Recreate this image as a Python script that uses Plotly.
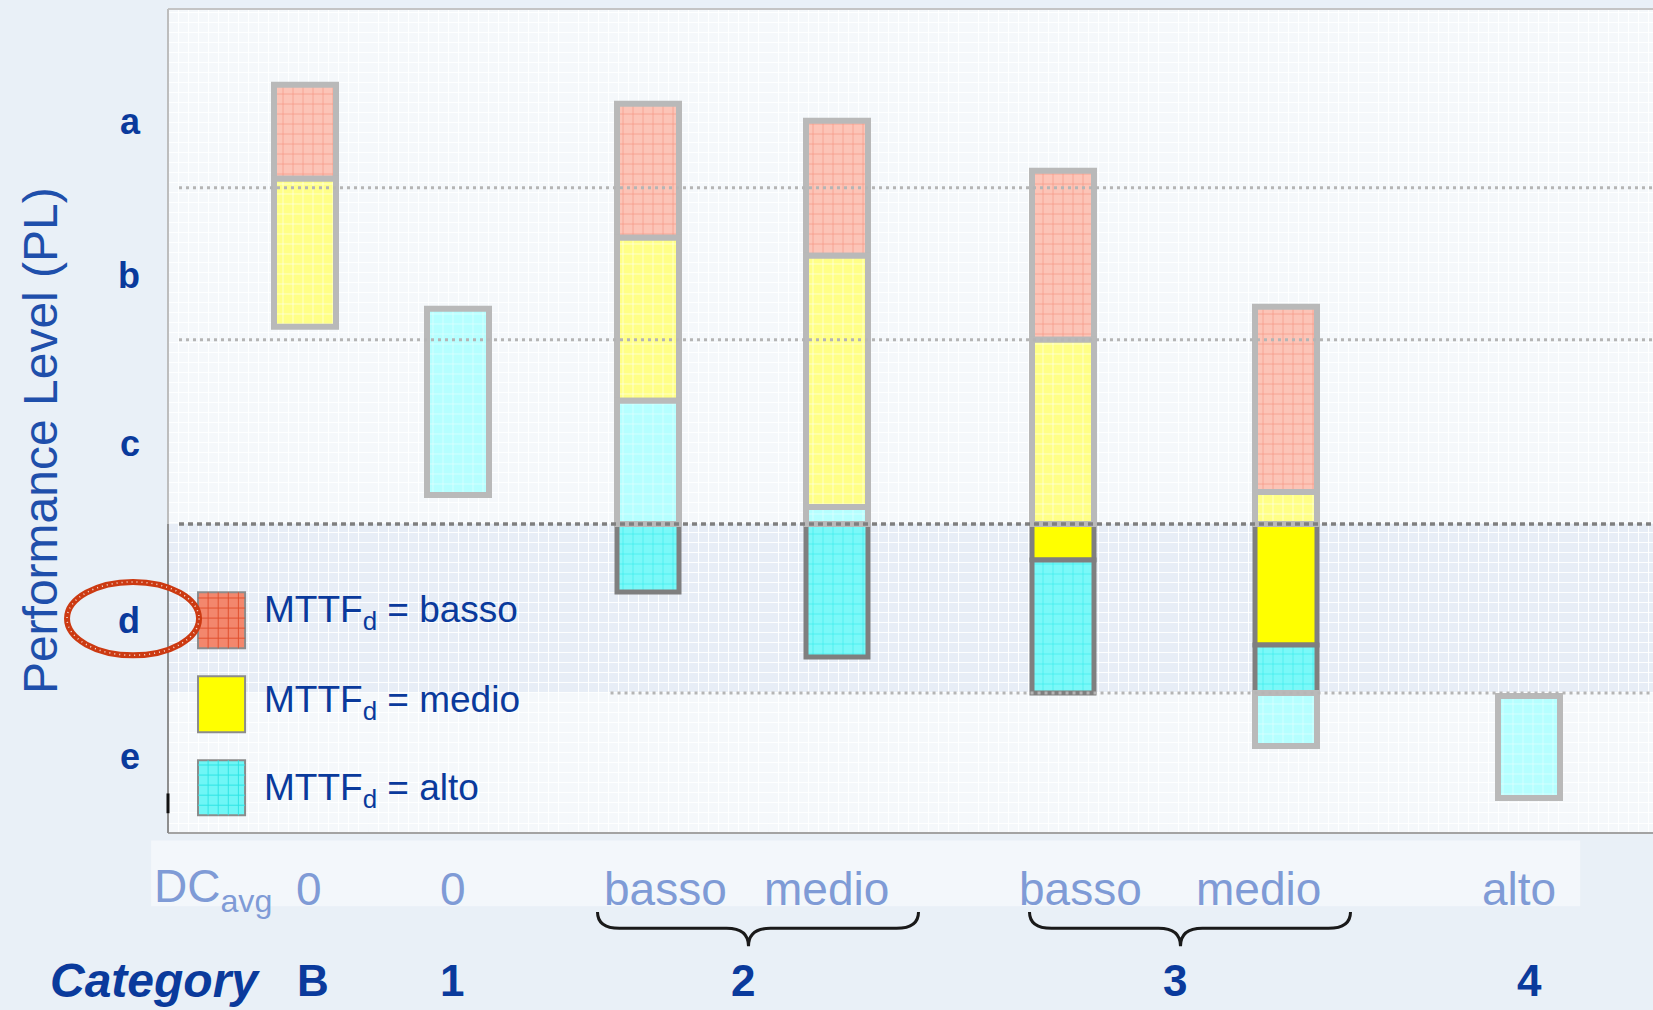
import plotly.graph_objects as go

# ---------------- data ----------------
categories = ["B", "1", "2", "2", "3", "3", "4"]
dc_avg = ["0", "0", "basso", "medio", "basso", "medio", "alto"]

# Performance Level scale (arbitrary vertical units, 0 = bottom of chart)
pl_levels = ["a", "b", "c", "d", "e"]
pl_label_pos = [71.1, 55.7, 38.9, 21.3, 7.7]
pl_bounds = [64.5, 49.3, 30.9, 14.0]          # a|b, b|c, c|d, d|e

# MTTFd ranges for every column (top, bottom); None = not applicable
basso_top = [74.8, None, 72.9, 71.2, 66.2, 52.6, None]
basso_bottom = [65.4, None, 59.5, 57.7, 49.3, 34.1, None]
medio_top = [65.4, None, 59.5, 57.7, 49.3, 34.1, None]
medio_bottom = [50.6, None, 43.2, 32.6, 27.3, 18.8, None]
alto_top = [None, 52.4, 43.2, 32.6, 27.3, 18.8, 13.7]
alto_bottom = [None, 33.8, 24.1, 17.6, 14.0, 8.7, 3.5]

legend_labels = ["MTTF<sub>d</sub> = basso", "MTTF<sub>d</sub> = medio", "MTTF<sub>d</sub> = alto"]

# ---------------- layout constants ----------------
X_POS = [1.37, 2.90, 4.80, 6.69, 8.95, 11.18, 13.61]
BAR_W = 0.62
X_RANGE = [0, 14.85]
Y_RANGE = [0, 82.37]
LABEL_SHIFT = [4, -5, 17, -11, 17, -28, -10]
CAT_SHIFT = {"B": 8, "1": -6}
CAT_ROW_Y = -0.1795
FONT = "Liberation Sans, Arial, sans-serif"
DARK_BLUE = "#0a3a9c"

STYLE = {
    ("basso", False): ("#fcc4b7", "#f3907e"),
    ("medio", False): ("#ffff86", "#fffff0"),
    ("alto", False): ("#b5ffff", "#e4ffff"),
    ("basso", True): ("#f4876c", "#e0502f"),
    ("medio", True): ("#ffff00", "#ffff00"),
    ("alto", True): ("#7af8f8", "#36ecec"),
}

d_lo, d_hi = pl_bounds[3], pl_bounds[2]


def split(top, bottom):
    """split a range into the part inside PL d (opaque) and the rest (faded)"""
    parts = []
    if top is None or bottom is None:
        return parts
    pieces = [(max(bottom, d_hi), top, False),
              (max(bottom, d_lo), min(top, d_hi), True),
              (bottom, min(top, d_lo), False)]
    for lo, hi, op in pieces:
        if hi - lo > 0.05:
            parts.append((lo, hi, op))
    return parts


segs = {k: ([], [], []) for k in STYLE}
series = {"basso": (basso_top, basso_bottom),
          "medio": (medio_top, medio_bottom),
          "alto": (alto_top, alto_bottom)}
for name, (tops, bots) in series.items():
    for i in range(len(categories)):
        for lo, hi, op in split(tops[i], bots[i]):
            xs, ys, bs = segs[(name, op)]
            xs.append(X_POS[i])
            ys.append(hi - lo)
            bs.append(lo)

fig = go.Figure()
# opaque (PL d) parts first, faded parts after
for opaque in (True, False):
    for name in ("basso", "medio", "alto"):
        xs, ys, bs = segs[(name, opaque)]
        if not xs:
            continue
        bg, fg = STYLE[(name, opaque)]
        fig.add_trace(go.Bar(
            x=xs, y=ys, base=bs, width=BAR_W, name=name,
            marker=dict(color=bg,
                        line=dict(color="#7f7f7f" if opaque else "#b9b9b9",
                                  width=5 if opaque else 6),
                        pattern=dict(shape="" if name == "medio" and opaque else "+",
                                     fgcolor=fg, bgcolor=bg, size=10,
                                     solidity=0.12, fillmode="replace")),
            showlegend=False, hoverinfo="skip"))

shapes = []
# PL d band
shapes.append(dict(type="rect", xref="paper", x0=0, x1=1, yref="y", y0=d_lo, y1=d_hi,
                   fillcolor="rgba(214,224,240,0.45)", line=dict(width=0), layer="below"))
# band below x labels
shapes.append(dict(type="rect", xref="paper", x0=-0.0114, x1=0.951, yref="paper",
                   y0=-0.089, y1=-0.009, fillcolor="rgba(255,255,255,0.45)",
                   line=dict(width=0), layer="below"))
# PL boundary lines
for j, b in enumerate(pl_bounds):
    dark = (j == 2)
    shapes.append(dict(type="line", xref="paper", x0=0.298 if j == 3 else 0.0074, x1=1,
                       yref="y", y0=b, y1=b, layer="above",
                       line=dict(color="#7f7f7f" if dark else "#b5b5b5",
                                 width=3.5 if dark else 3,
                                 dash="5px,4px" if dark else "3px,4px")))
# plot frame
shapes += [
    dict(type="line", xref="paper", yref="paper", x0=0, x1=1, y0=1, y1=1,
         line=dict(color="#c4c4c4", width=2)),
    dict(type="line", xref="paper", yref="paper", x0=0, x1=1, y0=0, y1=0,
         line=dict(color="#a3a3a3", width=2)),
    dict(type="line", xref="paper", yref="paper", x0=0, x1=0, y0=0, y1=1,
         line=dict(color="#bdbdbd", width=2)),
    dict(type="line", xref="paper", x0=0, x1=0, yref="y", y0=0, y1=d_hi,
         line=dict(color="#8e8e8e", width=2)),
    dict(type="line", xref="paper", yref="paper", x0=0, x1=0, y0=0.024, y1=0.048,
         line=dict(color="#111111", width=3)),
]

# braces under grouped categories
groups = {}
for i, c in enumerate(categories):
    groups.setdefault(c, []).append(X_POS[i])
yt, ym, yb, r = -0.0959, -0.1157, -0.1375, 0.22
for c, xs in groups.items():
    if len(xs) < 2:
        continue
    mid = sum(xs) / len(xs)
    L, R, T = mid - 1.45, mid + 1.76, mid + 0.06
    path = (f"M{L},{yt} Q{L},{ym} {L + r},{ym} L{T - r},{ym} Q{T},{ym} {T},{yb} "
            f"Q{T},{ym} {T + r},{ym} L{R - r},{ym} Q{R},{ym} {R},{yt}")
    shapes.append(dict(type="path", xref="x", yref="paper", path=path,
                       line=dict(color="#1a1a1a", width=3)))

# legend swatches
sw_x0, sw_x1 = 0.0202, 0.0519
sw_rows = [(0.2242, 0.2922), (0.1223, 0.1903), (0.0215, 0.0883)]
sw_style = [("#f3876d", "#e0502f"), ("#ffff00", None), ("#6ff6f6", "#2fe4e4")]
for (y0, y1), (fill, grid) in zip(sw_rows, sw_style):
    shapes.append(dict(type="rect", xref="paper", yref="paper", x0=sw_x0, x1=sw_x1,
                       y0=y0, y1=y1, fillcolor=fill, line=dict(color="#8c8c8c", width=2),
                       layer="above"))
    if grid:
        p = ""
        gx = sw_x0 + 0.0068
        while gx < sw_x1 - 0.002:
            p += f"M{gx},{y0} L{gx},{y1} "
            gx += 0.0068
        gy = y0 + 0.0122
        while gy < y1 - 0.003:
            p += f"M{sw_x0},{gy} L{sw_x1},{gy} "
            gy += 0.0122
        shapes.append(dict(type="path", xref="paper", yref="paper", path=p,
                           line=dict(color=grid, width=1), layer="above"))

# red dotted ellipse around "d"
shapes.append(dict(type="circle", xref="paper", yref="paper", x0=-0.068, x1=0.0209,
                   y0=0.2157, y1=0.3047, line=dict(color="#cc3a12", width=6), layer="above"))
shapes.append(dict(type="circle", xref="paper", yref="paper", x0=-0.068, x1=0.0209,
                   y0=0.2157, y1=0.3047,
                   line=dict(color="rgba(255,255,255,0.85)", width=1.5, dash="1px,4px"),
                   layer="above"))

annotations = []
# DC_avg row
annotations.append(dict(text="DC<sub>avg</sub>", xref="paper", yref="paper", x=0.030, y=-0.0683,
                        xanchor="center", yanchor="middle", showarrow=False,
                        font=dict(family=FONT, size=46, color="#7f9bd6")))
for i, lab in enumerate(dc_avg):
    annotations.append(dict(text=lab, xref="x", yref="paper", x=X_POS[i], y=-0.0683,
                            xshift=LABEL_SHIFT[i], xanchor="center", yanchor="middle",
                            showarrow=False, font=dict(family=FONT, size=46, color="#7f9bd6")))
# Category row
annotations.append(dict(text="<b><i>Category</i></b>", xref="paper", yref="paper", x=-0.0805,
                        y=CAT_ROW_Y, xanchor="left", yanchor="middle", showarrow=False,
                        font=dict(family=FONT, size=48, color=DARK_BLUE)))
for c, xs in groups.items():
    annotations.append(dict(text=f"<b>{c}</b>", xref="x", yref="paper", x=sum(xs) / len(xs),
                            y=CAT_ROW_Y, xshift=CAT_SHIFT.get(c, 0), xanchor="center",
                            yanchor="middle", showarrow=False,
                            font=dict(family=FONT, size=44, color=DARK_BLUE)))
# y title
annotations.append(dict(text="Performance Level (PL)", xref="paper", yref="paper", x=-0.0862,
                        y=0.4768, textangle=-90, xanchor="center", yanchor="middle",
                        showarrow=False, font=dict(family=FONT, size=48, color="#1f4fab")))
# legend text
for lab, y in zip(legend_labels, [0.2685, 0.1593, 0.0518]):
    annotations.append(dict(text=lab, xref="paper", yref="paper", x=0.0633, y=y,
                            xanchor="left", yanchor="middle", showarrow=False,
                            font=dict(family=FONT, size=37, color=DARK_BLUE)))

fig.update_layout(
    width=1653, height=1010,
    margin=dict(l=168, r=0, t=9, b=177),
    paper_bgcolor="#e9f0f7",
    plot_bgcolor="#f5f8fb",
    barmode="overlay",
    showlegend=False,
    shapes=shapes,
    annotations=annotations,
    xaxis=dict(range=X_RANGE, showticklabels=False, showgrid=False, zeroline=False,
               showline=False, ticks="",
               minor=dict(tickmode="linear", tick0=0, dtick=0.1, showgrid=True,
                          gridcolor="rgba(255,255,255,0.9)", gridwidth=1, ticks="")),
    yaxis=dict(range=Y_RANGE, tickmode="array", tickvals=pl_label_pos, ticktext=pl_levels,
               showgrid=False, zeroline=False, showline=False, ticks="",
               ticklabelstandoff=27,
               tickfont=dict(family=FONT, size=36, color=DARK_BLUE, weight="bold"),
               minor=dict(tickmode="linear", tick0=0, dtick=1.0, showgrid=True,
                          gridcolor="rgba(255,255,255,0.9)", gridwidth=1, ticks="")),
)

fig.write_html("out.html")
